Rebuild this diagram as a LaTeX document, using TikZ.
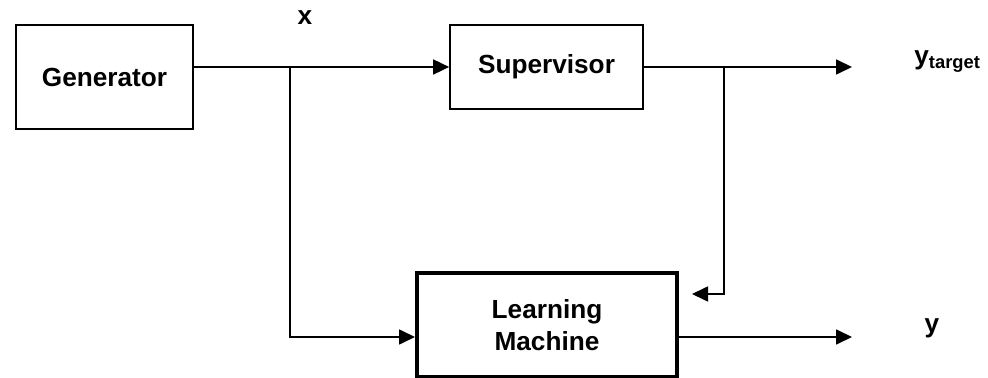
\documentclass[tikz,border=0pt]{standalone}
\usepackage{fontspec}
\setmainfont{Liberation Sans}
\usetikzlibrary{arrows.meta,calc}
\tikzset{
  >={Triangle[length=8pt,width=7.5pt]},
  every node/.style={font=\fontsize{13.1}{16}\selectfont\bfseries},
  block/.style={draw,line width=0.85pt,align=center,inner sep=3pt},
  lmblock/.style={block,line width=2pt},
  lbl/.style={inner sep=0pt},
  arrow/.style={->,line width=0.85pt},
  wire/.style={line width=0.85pt}
}
\begin{document}
\begin{tikzpicture}[x=0.5pt,y=-0.5pt]
  \useasboundingbox (0,0) rectangle (988,378);
  \node[block,minimum width=88.5pt,minimum height=52pt] (gen) at (104.5,77) {Generator};
  \node[block,minimum width=96.5pt,minimum height=42pt] (sup) at (546.5,67) {Supervisor};
  \node[lmblock,minimum width=130pt,minimum height=52pt] (lm) at (547,325) {Learning\\Machine};

  \node[lbl] (xlbl) at (305,18) {x};
  \node[lbl,anchor=base west] (ytgt) at (914,65) {y\textsubscript{target}};
  \node[lbl,anchor=base] (ylbl) at (932,333) {y};

  \coordinate (xsplit) at (290,67);
  \coordinate (ysplit) at (724,67);
  \coordinate (ytgtend) at (852,67);
  \coordinate (fbend) at (692,294);
  \coordinate (lmin) at ($(lm.west)+(0,12)$);
  \coordinate (lmout) at ($(lm.east)+(0,12)$);
  \coordinate (yend) at (852,337);

  \draw[arrow] (gen.east |- sup.west) -- (sup.west);
  \draw[arrow] (xsplit) |- (lmin);
  \draw[arrow] (sup.east) -- (ytgtend);
  \draw[arrow] (ysplit) |- (fbend);
  \draw[arrow] (lmout) -- (yend);
\end{tikzpicture}
\end{document}
